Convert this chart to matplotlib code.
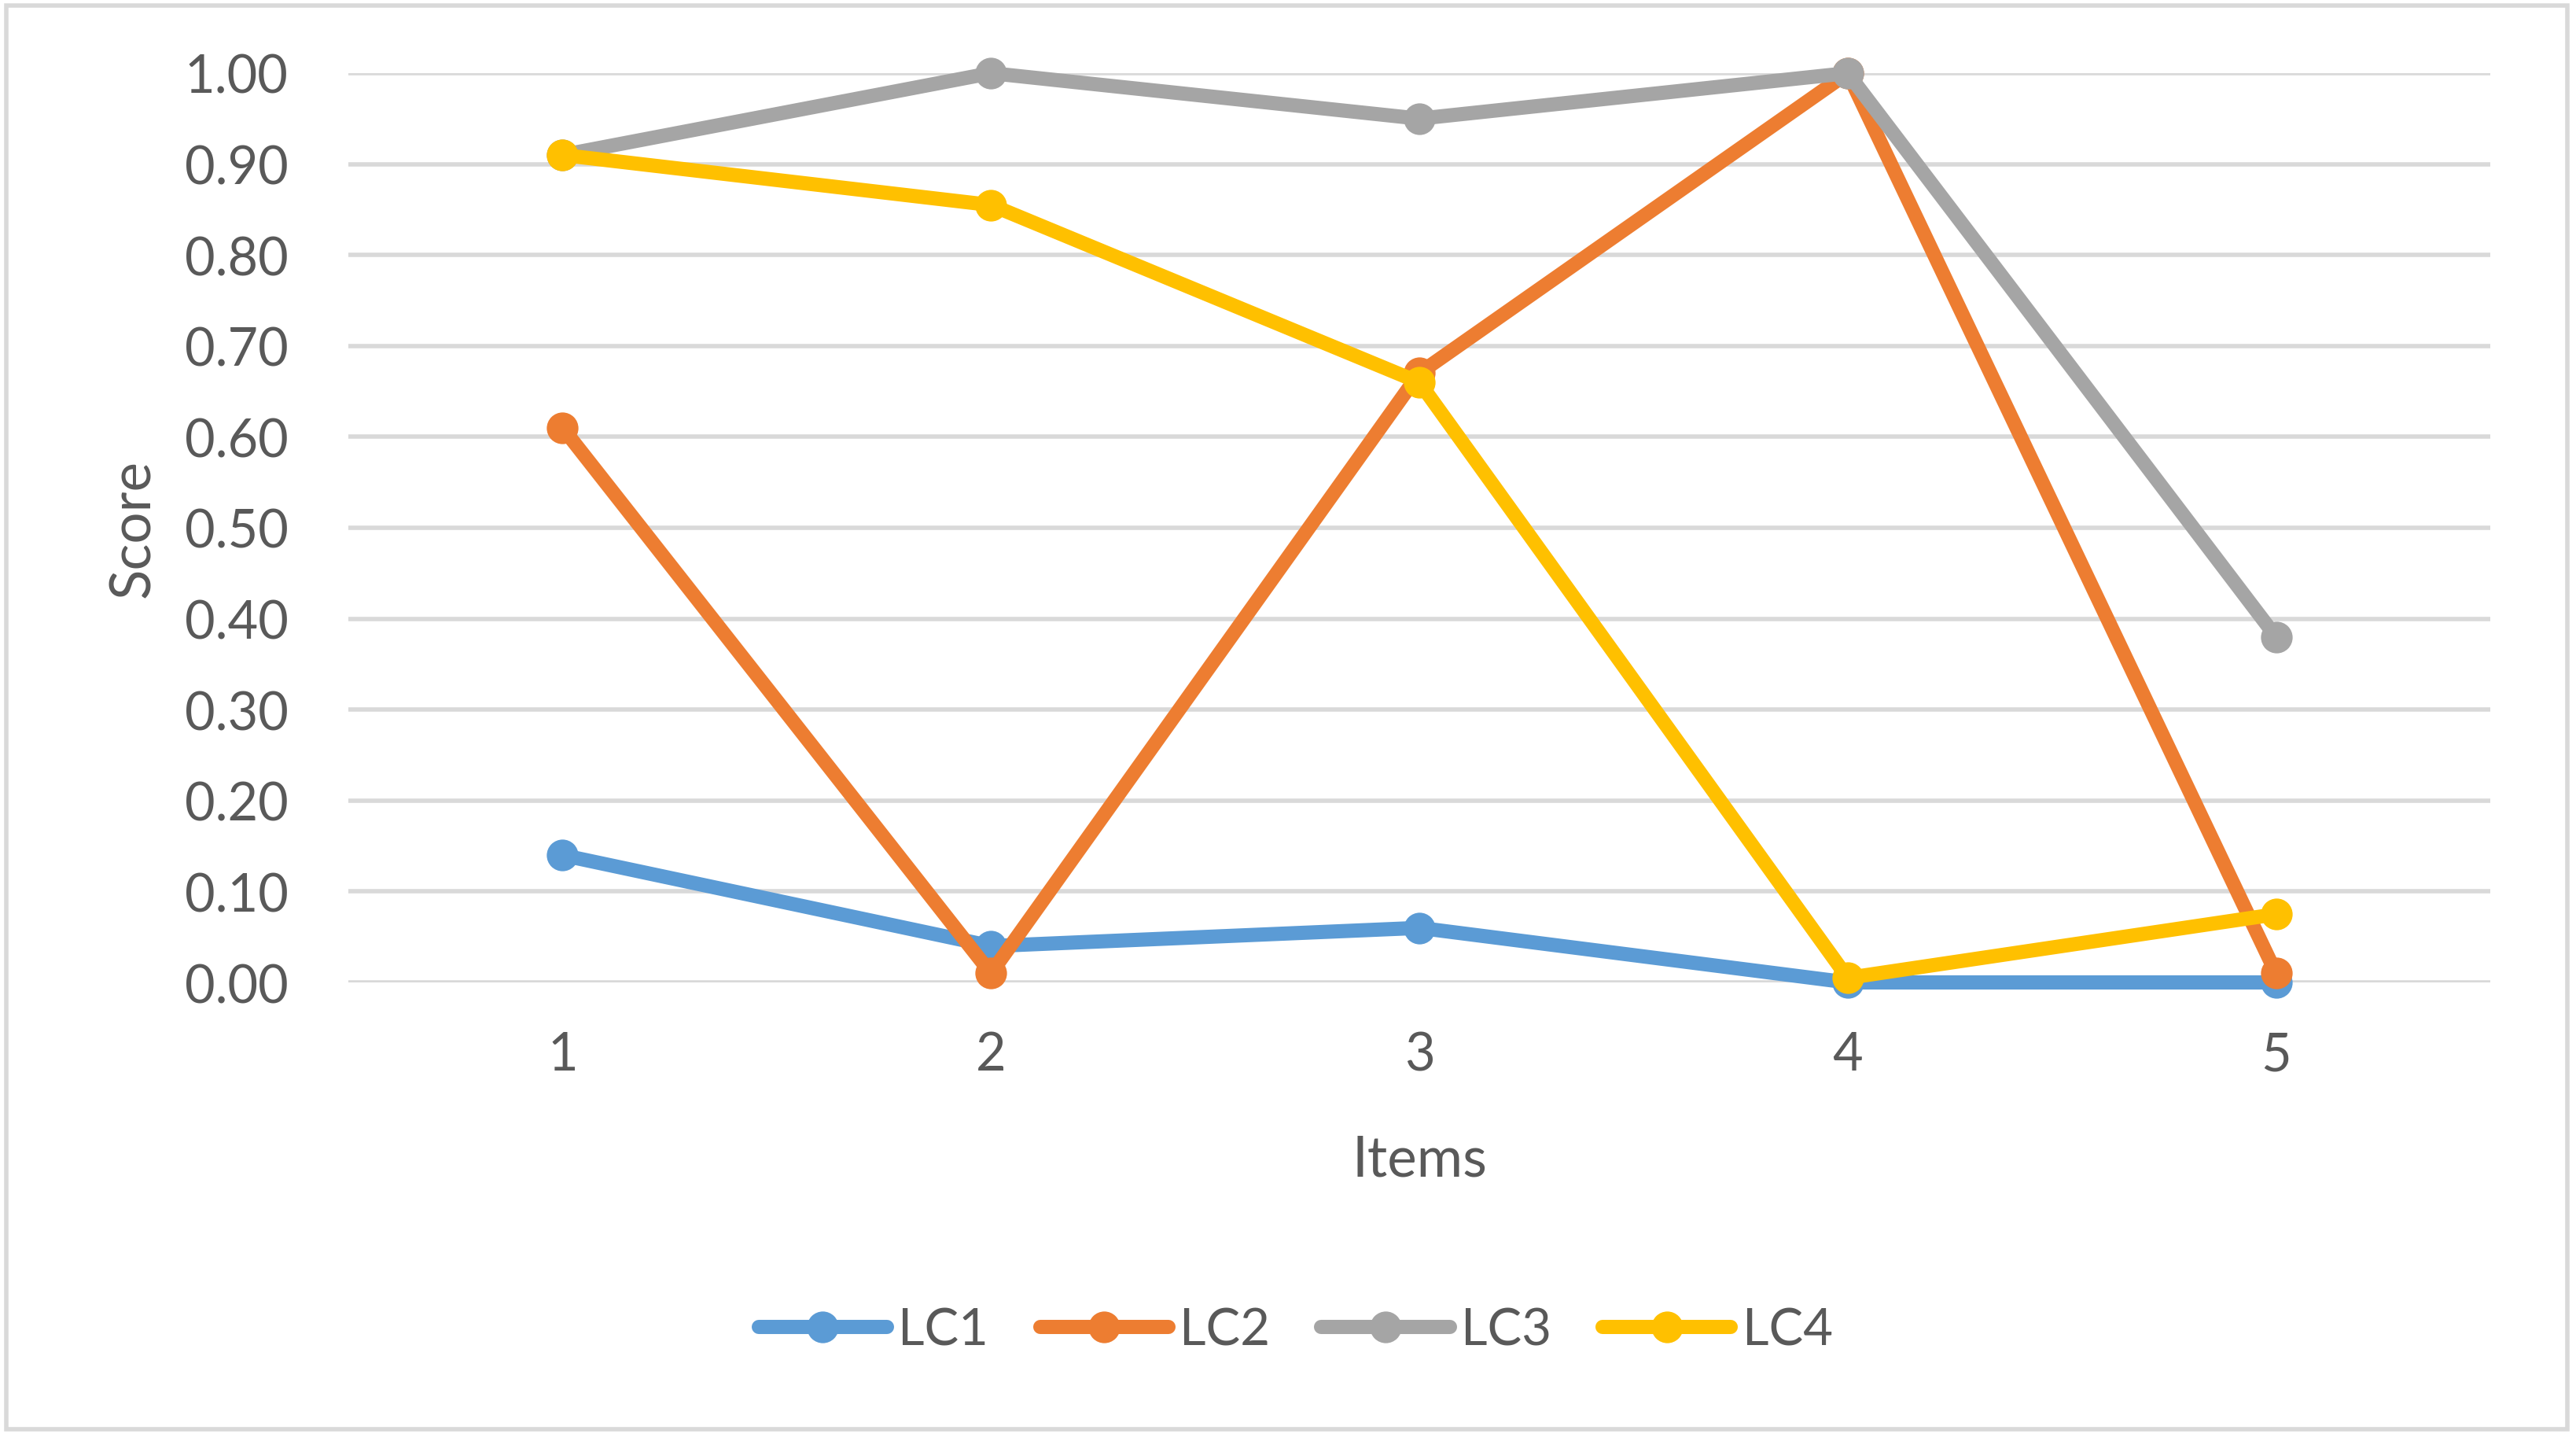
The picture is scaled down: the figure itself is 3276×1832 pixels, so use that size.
import matplotlib
matplotlib.use("Agg")
import matplotlib.pyplot as plt
from matplotlib.patches import Rectangle

# ---- data ----
items = [1, 2, 3, 4, 5]
lc1 = [0.14, 0.04, 0.06, 0.00, 0.00]
lc2 = [0.61, 0.01, 0.67, 1.00, 0.01]
lc3 = [0.91, 1.00, 0.95, 1.00, 0.38]
lc4 = [0.91, 0.855, 0.66, 0.005, 0.075]
series_names = ["LC1", "LC2", "LC3", "LC4"]
y_ticks = [0.0, 0.1, 0.2, 0.3, 0.4, 0.5, 0.6, 0.7, 0.8, 0.9, 1.0]

colors = ["#5B9BD5", "#ED7D31", "#A5A5A5", "#FFC000"]
text_color = "#595959"
grid_color = "#D9D9D9"

plt.rcParams['font.family'] = ['Lato', 'DejaVu Sans']

W, H = 3276, 1833
fig = plt.figure(figsize=(W / 100, H / 100), dpi=100)
fig.patch.set_facecolor("white")

# chart border
fig.patches.append(Rectangle((8 / W, 1 - 1818 / H), (3265 - 8) / W, (1818 - 8) / H,
                             transform=fig.transFigure, fill=False,
                             edgecolor=grid_color, linewidth=4))

left, right = 443 / W, 3167 / W
bottom, top = 1 - 1250 / H, 1 - 94 / H
ax = fig.add_axes([left, bottom, right - left, top - bottom])

for data, name, c in zip([lc1, lc2, lc3, lc4], series_names, colors):
    ax.plot(items, data, color=c, linewidth=13, marker='o', markersize=29,
            markeredgewidth=0, label=name, solid_joinstyle='round',
            solid_capstyle='round', zorder=3, clip_on=False)

ax.set_xlim(0.5, 5.5)
ax.set_ylim(0, 1.0)
ax.set_yticks(y_ticks)
ax.set_yticklabels([f"{v:.2f}" for v in y_ticks])
ax.set_xticks(items)
ax.set_xticklabels([str(i) for i in items])

ax.yaxis.grid(True, color=grid_color, linewidth=4)
ax.set_axisbelow(True)
for s in ax.spines.values():
    s.set_visible(False)
ax.tick_params(axis='both', length=0, labelcolor=text_color, labelsize=48)
ax.tick_params(axis='y', pad=55)
ax.tick_params(axis='x', pad=44)

ax.set_xlabel("Items", fontsize=51, color=text_color)
ax.xaxis.set_label_coords(0.5, (1250 - 1475) / (1250 - 94))
ax.xaxis.label.set_va('center')
ax.set_ylabel("Score", fontsize=51, color=text_color)
ax.yaxis.set_label_coords((170 - 443) / (3167 - 443), 0.5)
ax.yaxis.label.set_va('center')

leg = fig.legend(loc='center', bbox_to_anchor=(0.503, 1 - 1692 / H), ncol=4,
                 frameon=False, fontsize=47, handlelength=2.5, handletextpad=0.22,
                 columnspacing=1.0, labelcolor=text_color)

fig.savefig("out.png", dpi=100)
